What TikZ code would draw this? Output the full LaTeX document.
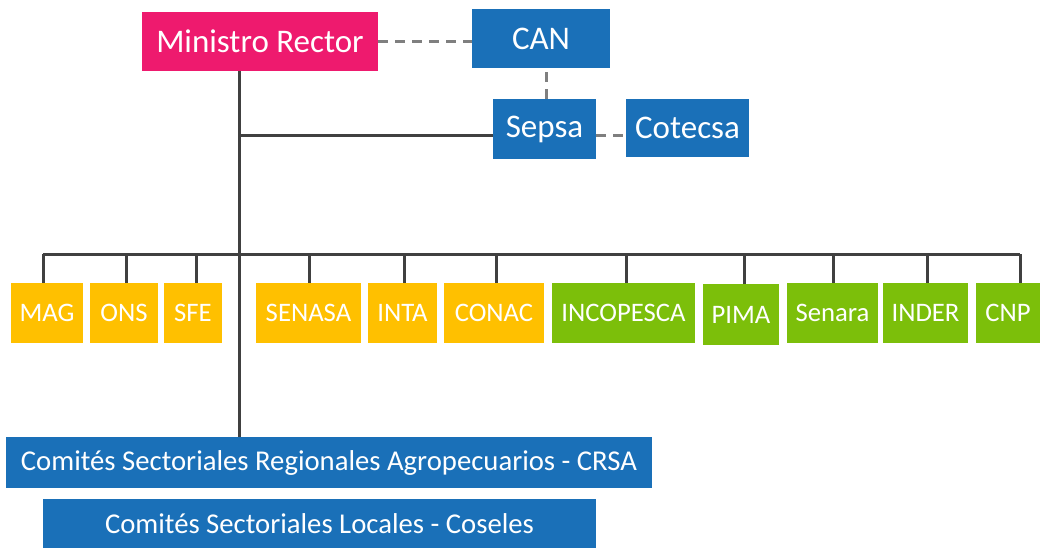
\documentclass[tikz,border=0pt]{standalone}
\usepackage{fontspec}
\setmainfont{Carlito}
\definecolor{cpink}{HTML}{EE1A6E}
\definecolor{cblue}{HTML}{1A70B8}
\definecolor{corange}{HTML}{FFC000}
\definecolor{cgreen}{HTML}{7CBF0A}
\definecolor{cline}{HTML}{404040}
\definecolor{cdash}{HTML}{7F7F7F}
\tikzset{
  box/.style={rectangle, inner sep=0pt, text=white, align=center},
  bigbox/.style={box, font=\fontsize{33}{38}\selectfont, minimum height=59pt},
  rowbox/.style={box, font=\fontsize{26.7}{31}\selectfont, minimum height=60pt},
  ybox/.style={rowbox, fill=corange},
  gbox/.style={rowbox, fill=cgreen},
  wbox/.style={box, fill=cblue, font=\fontsize{28.7}{33}\selectfont},
  conn/.style={draw=cline, line width=3pt},
  dashline/.style={draw=cdash, line width=3pt, dash pattern=on 10pt off 7pt},
}
\begin{document}
\begin{tikzpicture}[x=1pt,y=-1pt]
\useasboundingbox (0,0) rectangle (1043,556);
\fill[white] (0,0) rectangle (1043,556);
% top
\node[bigbox, fill=cpink, minimum width=236pt] (min) at (260,41.5) {Ministro Rector};
\node[bigbox, fill=cblue, minimum width=138pt] (can) at (541,38.5) {CAN};
\node[bigbox, fill=cblue, minimum width=103pt, minimum height=60pt] (sepsa) at (544.5,129) {Sepsa};
\node[bigbox, fill=cblue, minimum width=123pt, minimum height=58pt] (cot) at (687.5,128) {Cotecsa};
% row
\node[ybox, minimum width=72pt] (mag) at (47,313) {MAG};
\node[ybox, minimum width=68pt] (ons) at (124,313) {ONS};
\node[ybox, minimum width=58pt] (sfe) at (193,313) {SFE};
\node[ybox, minimum width=105pt] (senasa) at (308.5,313) {SENASA};
\node[ybox, minimum width=69pt] (inta) at (402.5,313) {INTA};
\node[ybox, minimum width=100pt] (conac) at (494,313) {CONAC};
\node[gbox, minimum width=143pt] (incop) at (623.5,313) {INCOPESCA};
\node[gbox, minimum width=76pt, minimum height=61pt] (pima) at (741,314.5) {PIMA};
\node[gbox, minimum width=91pt] (senara) at (832.5,313) {Senara};
\node[gbox, minimum width=85pt] (inder) at (925.5,313) {INDER};
\node[gbox, minimum width=64pt] (cnp) at (1008,313) {CNP};
% bottom
\node[wbox, minimum width=646pt, minimum height=51pt] (crsa) at (329,462.5) {Comités Sectoriales Regionales Agropecuarios - CRSA};
\node[wbox, minimum width=553pt, minimum height=49pt] (cos) at (319.5,523.5) {Comités Sectoriales Locales - Coseles};
% coordinates
\coordinate (bus) at (0,254);
\coordinate (trunk) at (239,0);
\coordinate (j1) at (239,136);
% dashed links
\draw[dashline] (min.east) -- (min.east -| can.west);
\draw[dashline] ([xshift=1.5pt]sepsa.north) -- ([xshift=1.5pt]sepsa.north |- can.south);
\draw[dashline] ([yshift=-7pt]sepsa.east) -- ([yshift=-7pt]sepsa.east -| cot.west);
% trunk
\draw[conn] (trunk |- min.south) -- (trunk |- crsa.north);
\draw[conn] (j1) -- (j1 -| sepsa.west);
% bus
\draw[conn] ([xshift=-4pt]mag.north |- bus) -- ([xshift=12pt]cnp.north |- bus);
\foreach \n/\s in {mag/-4, ons/2, sfe/3, senasa/0.5, inta/1.5, conac/2, incop/2.5, pima/3, senara/0.5, inder/1.5, cnp/12}{
  \draw[conn] ([xshift=\s pt]\n.north) -- ([xshift=\s pt]\n.north |- bus);
}
\end{tikzpicture}
\end{document}
